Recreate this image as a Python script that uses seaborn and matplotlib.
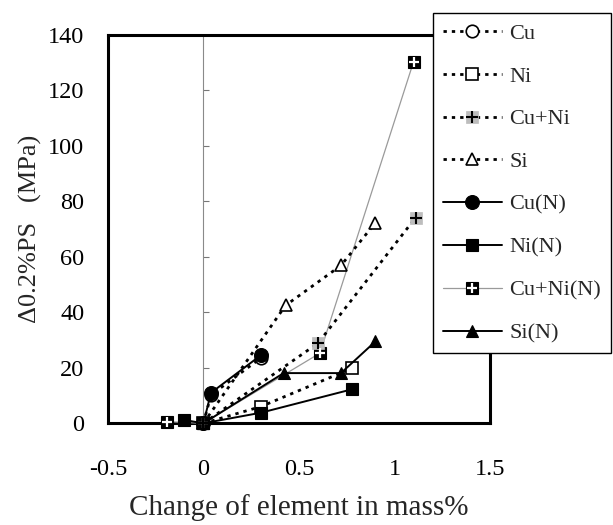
import matplotlib
matplotlib.use("Agg")
import numpy as np
import pandas as pd
import seaborn as sns
import matplotlib.pyplot as plt
from matplotlib.lines import Line2D

# ---------------- data ----------------
series_names = ["Cu", "Ni", "Cu+Ni", "Si", "Cu(N)", "Ni(N)", "Cu+Ni(N)", "Si(N)"]

cu_x = [0.0, 0.04, 0.30]
cu_y = [0.0, 10.2, 23.5]
ni_x = [0.0, 0.30, 0.78]
ni_y = [0.0, 6.0, 19.9]
cuni_x = [0.0, 0.60, 1.11]
cuni_y = [0.0, 28.9, 74.1]
si_x = [0.0, 0.43, 0.72, 0.90]
si_y = [0.0, 42.5, 56.9, 72.3]
cun_x = [0.0, 0.04, 0.30]
cun_y = [0.0, 11.0, 24.5]
nin_x = [-0.10, 0.0, 0.30, 0.78]
nin_y = [1.2, 0.0, 3.8, 12.3]
cunin_x = [-0.19, 0.0, 0.61, 1.10]
cunin_y = [0.6, 0.0, 25.3, 130.4]
sin_x = [0.0, 0.42, 0.72, 0.90]
sin_y = [0.0, 18.1, 18.1, 29.5]

x_ticks = [-0.5, 0.0, 0.5, 1.0, 1.5]
x_tick_labels = ["-0.5", "0", "0.5", "1", "1.5"]
y_ticks = [0, 20, 40, 60, 80, 100, 120, 140]
y_tick_labels = ["0", "20", "40", "60", "80", "100", "120", "140"]
x_label = "Change of element in mass%"
y_label = "Δ0.2%PS   (MPa)"

xs = [cu_x, ni_x, cuni_x, si_x, cun_x, nin_x, cunin_x, sin_x]
ys = [cu_y, ni_y, cuni_y, si_y, cun_y, nin_y, cunin_y, sin_y]
frames = []
for name, xv, yv in zip(series_names, xs, ys):
    frames.append(pd.DataFrame({"x": xv, "y": yv, "series": name,
                                "order": range(len(xv))}))
df = pd.concat(frames, ignore_index=True)

# ---------------- styles ----------------
DOT = (0, (1.2, 1.8))
styles = {
    "Cu": dict(color="black", linestyle=DOT, linewidth=2.0, marker="o", markersize=9,
               markerfacecolor="white", markeredgecolor="black", markeredgewidth=1.2),
    "Ni": dict(color="black", linestyle=DOT, linewidth=2.0, marker="s", markersize=9,
               markerfacecolor="white", markeredgecolor="black", markeredgewidth=1.2),
    "Cu+Ni": dict(color="black", linestyle=DOT, linewidth=2.0, marker="s", markersize=9,
                  markerfacecolor="#bdbdbd", markeredgecolor="#bdbdbd", markeredgewidth=0.5),
    "Si": dict(color="black", linestyle=DOT, linewidth=2.0, marker="^", markersize=8,
               markerfacecolor="white", markeredgecolor="black", markeredgewidth=1.2),
    "Cu(N)": dict(color="black", linestyle="-", linewidth=1.4, marker="o", markersize=10,
                  markerfacecolor="black", markeredgecolor="black", markeredgewidth=0.8),
    "Ni(N)": dict(color="black", linestyle="-", linewidth=1.4, marker="s", markersize=9,
                  markerfacecolor="black", markeredgecolor="black", markeredgewidth=0.8),
    "Cu+Ni(N)": dict(color="#9a9a9a", linestyle="-", linewidth=0.9, marker="s", markersize=9,
                     markerfacecolor="black", markeredgecolor="black", markeredgewidth=0.8),
    "Si(N)": dict(color="black", linestyle="-", linewidth=1.4, marker="^", markersize=8,
                  markerfacecolor="black", markeredgecolor="black", markeredgewidth=0.8),
}
plus_overlay = {
    "Cu+Ni": dict(linestyle="none", marker="+", markersize=9, markeredgecolor="black",
                  markerfacecolor="black", markeredgewidth=1.5),
    "Cu+Ni(N)": dict(linestyle="none", marker="+", markersize=7, markeredgecolor="white",
                     markerfacecolor="white", markeredgewidth=1.6),
}

# ---------------- figure ----------------
sns.set_theme(style="white")
plt.rcParams["font.family"] = ["Liberation Serif", "DejaVu Serif"]

fig = plt.figure(figsize=(6.13, 5.25), dpi=100)
ax = fig.add_axes([0.1759, 0.1937, 0.6235, 0.7397])

draw_order = ["Cu+Ni(N)", "Si", "Cu+Ni", "Ni", "Cu", "Si(N)", "Ni(N)", "Cu(N)"]
for name in draw_order:
    sub = df[df["series"] == name].sort_values("order")
    sns.lineplot(data=sub, x="x", y="y", ax=ax, sort=False, estimator=None,
                 legend=False, clip_on=False, zorder=3, **styles[name])
    if name in plus_overlay:
        sns.lineplot(data=sub, x="x", y="y", ax=ax, sort=False, estimator=None,
                     legend=False, clip_on=False, zorder=4, **plus_overlay[name])

ax.set_xlim(-0.5, 1.5)
ax.set_ylim(0, 140)
ax.set_xticks(x_ticks)
ax.set_xticklabels(x_tick_labels)
ax.set_yticks(y_ticks)
ax.set_yticklabels(y_tick_labels)
ax.set_xlabel(x_label, fontsize=21, labelpad=10)
ax.set_ylabel(y_label, fontsize=19, labelpad=4)

for sp in ax.spines.values():
    sp.set_visible(True)
    sp.set_color("black")
    sp.set_linewidth(2.2)

ax.tick_params(axis="x", direction="in", length=6, width=0.8, color="#777777",
               labelsize=17.5, pad=26, labelcolor="black")
ax.tick_params(axis="y", length=0, labelsize=17.5, pad=17, labelcolor="black")

# vertical axis through x = 0 with inward ticks
sec = ax.secondary_yaxis(0.0, transform=ax.transData)
sec.set_yticks(y_ticks)
sec.tick_params(axis="y", direction="in", length=4.5, width=0.8, color="#777777",
                labelleft=False, labelright=False)
for sp in sec.spines.values():
    sp.set_color("#8a8a8a")
    sp.set_linewidth(0.8)

# ---------------- legend ----------------
handles = []
for name in series_names:
    base = Line2D([], [], **styles[name])
    if name in plus_overlay:
        handles.append((base, Line2D([], [], **plus_overlay[name])))
    else:
        handles.append(base)

leg = ax.legend(handles, series_names, loc="upper left",
                bbox_to_anchor=(432.7 / 613, 1 - 13.3 / 525),
                bbox_transform=fig.transFigure, frameon=True, fancybox=False,
                edgecolor="black", framealpha=1, facecolor="white", fontsize=16,
                labelspacing=1.0, handlelength=2.65, handletextpad=0.35,
                borderpad=0.45, borderaxespad=0)
leg.get_frame().set_linewidth(1.0)
leg.set_zorder(10)

fig.savefig("out.png", dpi=100)
